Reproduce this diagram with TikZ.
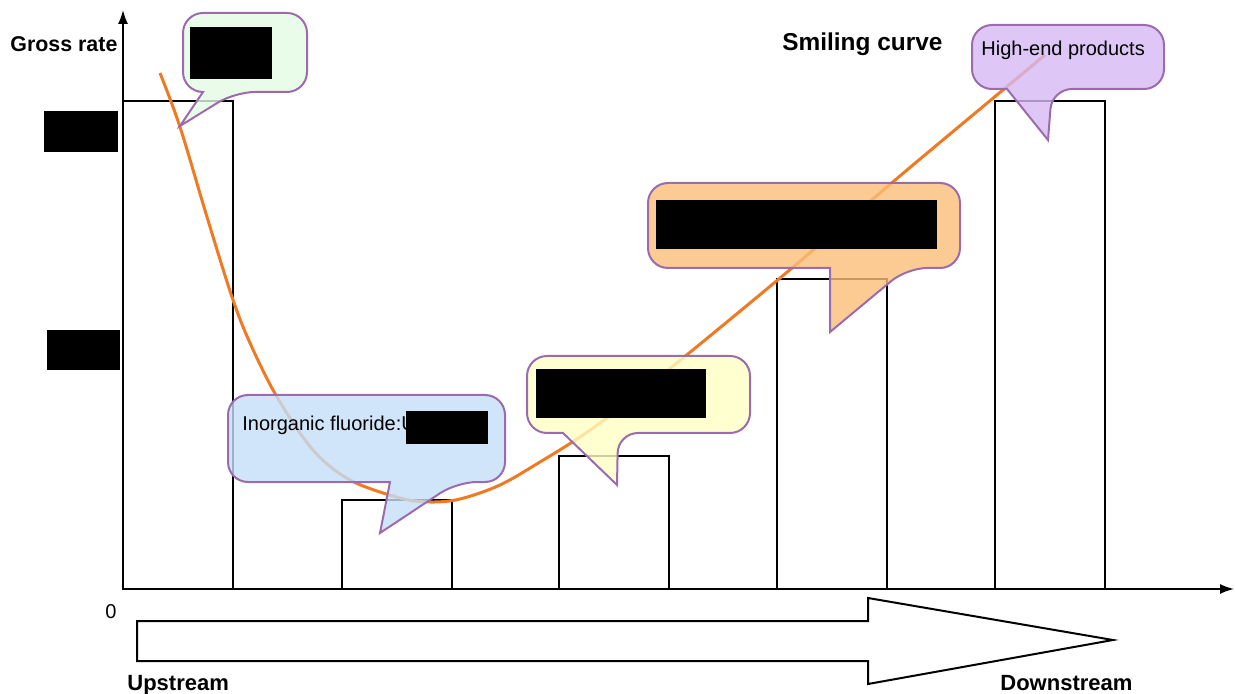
\documentclass[tikz,border=0pt]{standalone}
\usepackage{fontspec}
\setmainfont{Liberation Sans}
\usetikzlibrary{arrows.meta}

\definecolor{curveorange}{HTML}{F07A22}
\definecolor{bubbleline}{HTML}{9B6BAE}
\definecolor{fill_green}{HTML}{E4FAE4}
\definecolor{fill_lilac}{HTML}{D6B8F4}
\definecolor{fill_orange}{HTML}{FBBE78}
\definecolor{fill_yellow}{HTML}{FFFFC4}
\definecolor{fill_blue}{HTML}{C4DEF8}

\begin{document}
\begin{tikzpicture}[x=0.5pt, y=-0.5pt,
                barbox/.style={draw, line width=0.7pt},
                axisline/.style={line width=0.8pt, -{Latex[length=7pt, width=5pt]}},
                bigarrow/.style={draw, line width=1pt},
                curveline/.style={draw=curveorange, line width=1.5pt},
                bubble/.style={draw=bubbleline, line width=1pt, fill opacity=0.8, rounded corners=10pt},
                redact/.style={fill=black},
                boldtext/.style={font=\bfseries\fontsize{10.7}{12}\selectfont, inner sep=0pt},
                titletext/.style={font=\bfseries\fontsize{12.2}{14}\selectfont, inner sep=0pt},
                plaintext/.style={font=\fontsize{10}{12}\selectfont, inner sep=0pt},
            ]
            \useasboundingbox (0,0) rectangle (1235,694);

            % Bars
            \foreach \x/\top in {123/101, 342/500, 559/456, 777/279, 995/101}
                \draw[barbox] (\x,\top) rectangle ({\x+110},589);

            % Axes
            \coordinate (origin) at (123,589);
            \coordinate (y_end)  at (123,10);
            \coordinate (x_end)  at (1234,589);
            \draw[axisline] (origin) -- (y_end);
            \draw[axisline] (origin) -- (x_end);

            % Upstream -> downstream arrow
            \draw[bigarrow] (137,621) -- (868,621) -- (868,598) -- (1113,640)
                -- (868,684) -- (868,661) -- (137,661) -- cycle;

            % Smiling curve
            \draw[curveline] plot[smooth, tension=0.55] coordinates {
                (160,73) (180,127) (207,217) (232,297) (250,343) (277,397)
                (313,450) (350,480) (400,498) (430,502) (460,499) (500,485)
                (540,462) (580,437) (620,408) (683,358) (792,268) (907,170)
                (1045,55)};

            % Callouts
            \draw[bubble, fill=fill_green] (203,92) -- (183,92) -- (183,13) -- (307,13)
                -- (307,92) -- (235,92) [sharp corners] -- (180,126) -- cycle;
            \draw[bubble, fill=fill_lilac] (1007,89) -- (972,89) -- (972,25) -- (1164,25)
                -- (1164,89) -- (1052,89) [sharp corners] -- (1048,140) -- cycle;
            \draw[bubble, fill=fill_orange] (830,268) -- (648,268) -- (648,183) -- (960,183)
                -- (960,268) -- (907,268) [sharp corners] -- (830,332) -- cycle;
            \draw[bubble, fill=fill_yellow] (563,433) -- (527,433) -- (527,356) -- (750,356)
                -- (750,433) -- (618,433) [sharp corners] -- (617,485) -- cycle;
            \draw[bubble, fill=fill_blue] (390,482) -- (228,482) -- (228,395) -- (505,395)
                -- (505,482) -- (457,482) [sharp corners] -- (380,533) -- cycle;

            % Texts
            \node[boldtext, anchor=west]  (gross_rate)    at (10,44)   {Gross rate};
            \node[titletext, anchor=west] (smiling_title) at (782,44)  {Smiling curve};
            \node[plaintext, anchor=west] (highend_text)  at (981,50)  {High-end products};
            \node[plaintext, anchor=west] (fluoride_text) at (242,425) {Inorganic fluoride:U};
            \node[plaintext] (zero) at (111,612) {0};
            \node[boldtext, font=\bfseries\fontsize{11}{13}\selectfont, anchor=base west]
                (upstream)   at (127,690) {Upstream};
            \node[boldtext, font=\bfseries\fontsize{11}{13}\selectfont, anchor=base west]
                (downstream) at (1000,690) {Downstream};

            % Hidden parts
            \fill[redact] (44,111) rectangle (118,152);
            \fill[redact] (47,330) rectangle (120,370);
            \fill[redact] (190,27) rectangle (272,79);
            \fill[redact] (656,200) rectangle (937,249);
            \fill[redact] (536,369) rectangle (706,418);
            \fill[redact] (406,411) rectangle (488,444);
        \end{tikzpicture}
\end{document}
